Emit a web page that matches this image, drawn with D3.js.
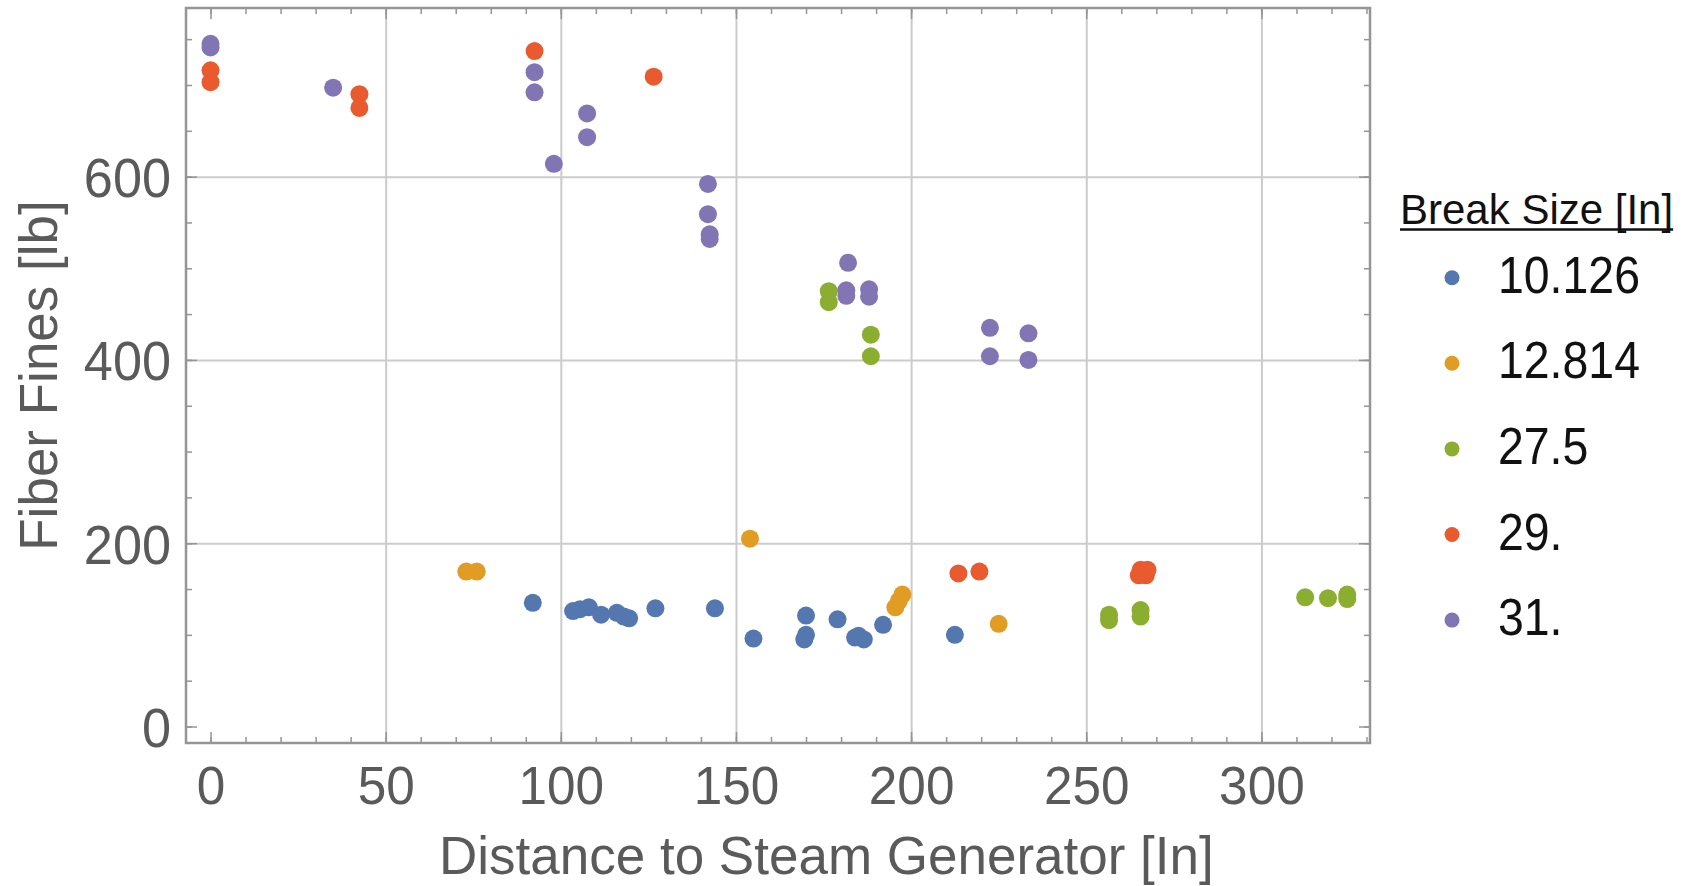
<!DOCTYPE html>
<html>
<head>
<meta charset="utf-8">
<script src="https://cdn.jsdelivr.net/npm/d3@7"></script>
<style>
  html, body { margin: 0; padding: 0; background: #fff; }
  svg { display: block; font-family: "Liberation Sans", Arial, sans-serif; }
</style>
</head>
<body>
<svg id="chart" width="1692" height="886"></svg>
<script>
// legend labels (break size, inches)
const breakSizes = ["10.126", "12.814", "27.5", "29.", "31."];
const seriesColors = ["#5577b0", "#e19c24", "#8cae30", "#e95a2f", "#8275b3"];

// distance to steam generator [in] / fiber fines [lb], one pair of arrays per break size
const dist10 = [92, 103.5, 105.5, 108, 111.5, 116, 118, 119.5, 127, 144, 155, 170, 170, 169.5, 179, 184, 186.5, 185, 192, 212.5];
const fines10 = [135, 126, 128, 130, 122, 124, 120, 118, 129, 129, 96, 121, 100, 95, 117, 97, 95, 99, 111, 100];

const dist12 = [73, 76, 154, 195.5, 196.5, 197.5, 225];
const fines12 = [169, 169, 205, 130, 137, 144, 112];

const dist27 = [176.5, 176.5, 188.5, 188.5, 256.5, 256.5, 265.5, 265.5, 312.5, 319, 324.5, 324.5];
const fines27 = [475, 463, 427.5, 404, 122, 116, 127, 120, 141, 140, 144, 139];

const dist29 = [0, 0, 42.5, 42.5, 92.5, 126.5, 213.5, 219.5, 265, 267, 265.5, 267.5];
const fines29 = [716, 703, 690, 675, 737, 709, 167, 169, 165, 165, 171, 171];

const dist31 = [0, 0, 35, 92.5, 92.5, 98, 107.5, 107.5, 142, 142, 142.5, 142.5, 182, 181.5, 181.5, 188, 188, 222.5, 222.5, 233.5, 233.5];
const fines31 = [745, 741, 697, 714, 692, 614, 669, 643, 592, 559, 537, 532, 506, 476, 470, 477, 469, 435, 404, 429, 400];

const xTicks = [0, 50, 100, 150, 200, 250, 300];
const yTicks = [0, 200, 400, 600];

const series = [
  {x: dist10, y: fines10},
  {x: dist12, y: fines12},
  {x: dist27, y: fines27},
  {x: dist29, y: fines29},
  {x: dist31, y: fines31}
];

const svg = d3.select("#chart");
const plot = {left: 186, right: 1370, top: 8, bottom: 743};
const H = plot.bottom - plot.top, W = plot.right - plot.left;

const x = d3.scaleLinear().domain([-7, 331]).range([plot.left, plot.right]);
const y = d3.scaleLinear().domain([-18, 784]).range([plot.bottom, plot.top]);

const frameColor = "#959595", gridColor = "#cbcbcb", labelColor = "#5a5a5a";

// grid lines
svg.append("g")
  .attr("transform", `translate(0,${plot.bottom})`)
  .call(d3.axisBottom(x).tickValues(xTicks.filter(d => d > 0)).tickSize(-H).tickFormat(""))
  .call(g => g.select(".domain").remove())
  .call(g => g.selectAll("line").attr("stroke", gridColor).attr("stroke-width", 2));
svg.append("g")
  .attr("transform", `translate(${plot.left},0)`)
  .call(d3.axisLeft(y).tickValues(yTicks.filter(d => d > 0)).tickSize(-W).tickFormat(""))
  .call(g => g.select(".domain").remove())
  .call(g => g.selectAll("line").attr("stroke", gridColor).attr("stroke-width", 2));

// frame ticks (inward, on all four sides)
function frameTicks(axisFn, scale, values, size, pos) {
  svg.append("g")
    .attr("transform", pos)
    .call(axisFn(scale).tickValues(values).tickSize(-size).tickFormat(""))
    .call(g => g.select(".domain").remove())
    .call(g => g.selectAll("line").attr("stroke", frameColor).attr("stroke-width", 1.5));
}
const xMinor = d3.range(0, 331, 10), yMinor = d3.range(0, 781, 50);
frameTicks(d3.axisBottom, x, xMinor, 6, `translate(0,${plot.bottom})`);
frameTicks(d3.axisTop, x, xMinor, 6, `translate(0,${plot.top})`);
frameTicks(d3.axisBottom, x, xTicks, 11, `translate(0,${plot.bottom})`);
frameTicks(d3.axisTop, x, xTicks, 11, `translate(0,${plot.top})`);
frameTicks(d3.axisLeft, y, yMinor, 6, `translate(${plot.left},0)`);
frameTicks(d3.axisRight, y, yMinor, 6, `translate(${plot.right},0)`);
frameTicks(d3.axisLeft, y, yTicks, 11, `translate(${plot.left},0)`);
frameTicks(d3.axisRight, y, yTicks, 11, `translate(${plot.right},0)`);

// tick labels
svg.append("g")
  .attr("transform", `translate(0,${plot.bottom})`)
  .call(d3.axisBottom(x).tickValues(xTicks).tickSize(0).tickFormat(d3.format("d")))
  .call(g => g.select(".domain").remove())
  .call(g => g.selectAll("text").attr("y", 61).attr("dy", null)
    .attr("font-size", 54).attr("fill", labelColor).attr("class", "squeeze"));
svg.append("g")
  .attr("transform", `translate(${plot.left},0)`)
  .call(d3.axisLeft(y).tickValues(yTicks).tickSize(0).tickFormat(d3.format("d")))
  .call(g => g.select(".domain").remove())
  .call(g => g.selectAll("text").attr("x", -15).attr("dy", "0.36em")
    .attr("font-size", 55).attr("fill", labelColor).attr("class", "squeeze"));

svg.append("rect")
  .attr("x", plot.left).attr("y", plot.top).attr("width", W).attr("height", H)
  .attr("fill", "none").attr("stroke", frameColor).attr("stroke-width", 2.5);

// points
svg.append("clipPath").attr("id", "clip")
  .append("rect").attr("x", plot.left).attr("y", plot.top).attr("width", W).attr("height", H);

svg.append("g").attr("clip-path", "url(#clip)")
  .selectAll("g")
  .data(series)
  .join("g")
  .attr("fill", (d, i) => seriesColors[i])
  .selectAll("circle")
  .data(d => d.x.map((v, j) => [v, d.y[j]]))
  .join("circle")
  .attr("cx", d => x(d[0]))
  .attr("cy", d => y(d[1]))
  .attr("r", 9);

// axis titles
svg.append("text")
  .attr("x", 439).attr("y", 874)
  .attr("font-size", 53).attr("fill", labelColor)
  .text("Distance to Steam Generator [In]");
svg.append("text")
  .attr("transform", `translate(57,${(plot.top + plot.bottom) / 2}) rotate(-90)`)
  .attr("text-anchor", "middle")
  .attr("font-size", 53).attr("fill", labelColor)
  .text("Fiber Fines [lb]");

// legend
const legend = svg.append("g");
const title = legend.append("text")
  .attr("x", 1400).attr("y", 224)
  .attr("font-size", 42).attr("fill", "#111")
  .text("Break Size [In]");
const tw = title.node().getComputedTextLength();
legend.append("line")
  .attr("x1", 1400).attr("x2", 1400 + tw)
  .attr("y1", 229.5).attr("y2", 229.5)
  .attr("stroke", "#111").attr("stroke-width", 2.5);

const items = legend.selectAll("g.item")
  .data(breakSizes)
  .join("g")
  .attr("class", "item")
  .attr("transform", (d, i) => `translate(1452,${277.7 + i * 85.6})`);
items.append("circle").attr("r", 7.5).attr("fill", (d, i) => seriesColors[i]);
items.append("text")
  .attr("x", 46).attr("y", 15)
  .attr("font-size", 51).attr("fill", "#111")
  .attr("class", "squeeze-more")
  .text(d => d);

// the original glyphs are a bit narrower than Liberation Sans
function squeeze(sel, k) {
  sel.each(function() {
    const w = this.getComputedTextLength();
    d3.select(this).attr("textLength", w * k).attr("lengthAdjust", "spacingAndGlyphs");
  });
}
squeeze(svg.selectAll("text.squeeze"), 0.95);
squeeze(svg.selectAll("text.squeeze-more"), 0.91);
</script>
</body>
</html>
